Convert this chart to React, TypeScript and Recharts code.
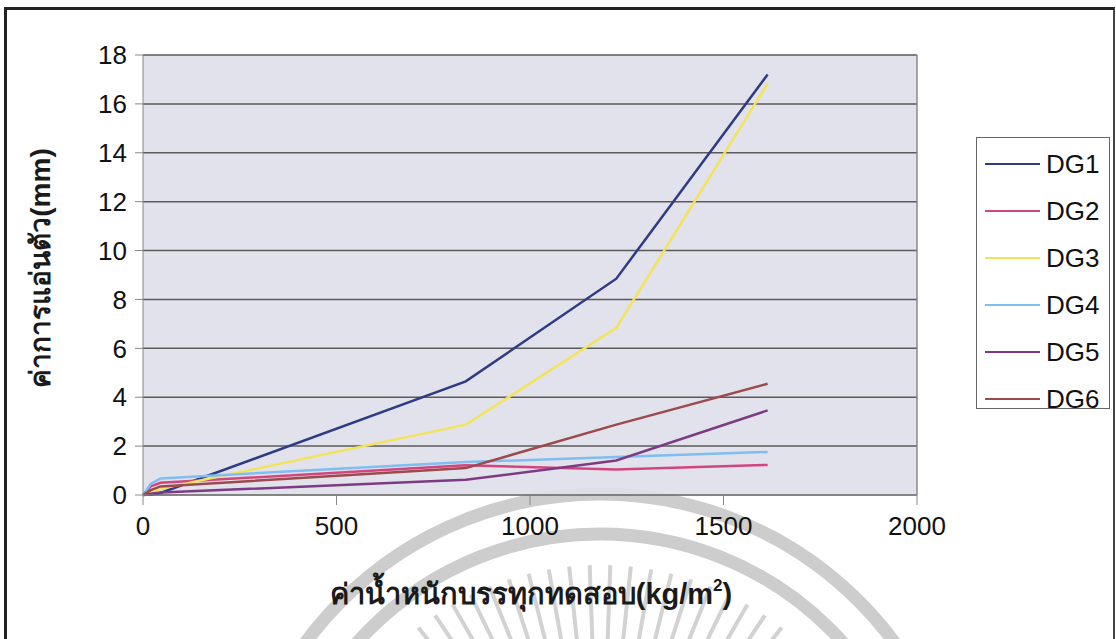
import { LineChart, Line, XAxis, YAxis, CartesianGrid, ReferenceLine } from 'recharts';

// load (kg/m2) and deflection (mm)
const loads = [0, 20, 45, 834, 1223, 1614];
const dg1 = [0, 0.02, 0.08, 4.65, 8.85, 17.2];
const dg2 = [0, 0.35, 0.5, 1.22, 1.04, 1.23];
const dg3 = [0, 0.1, 0.25, 2.88, 6.84, 16.83];
const dg4 = [0, 0.45, 0.68, 1.35, 1.55, 1.76];
const dg5 = [0, 0.05, 0.1, 0.62, 1.41, 3.46];
const dg6 = [0, 0.2, 0.35, 1.1, 2.88, 4.55];

const seriesNames = ['DG1', 'DG2', 'DG3', 'DG4', 'DG5', 'DG6'];
const seriesColors = ['#2f3b84', '#d2457f', '#f2e35a', '#7fbdf2', '#7d3b83', '#9c4a4c'];
const xTicks = [0, 500, 1000, 1500, 2000];
const yTicks = [0, 2, 4, 6, 8, 10, 12, 14, 16, 18];

const allSeries = [dg1, dg2, dg3, dg4, dg5, dg6];
const data = loads.map((load, i) => {
  const row: Record<string, number> = { load };
  seriesNames.forEach((name, s) => {
    row[name] = allSeries[s][i];
  });
  return row;
});

const font = '"Liberation Sans", Arial, sans-serif';

function Watermark() {
  const cx = 600;
  const cy = 860;
  const rays = [];
  for (let a = -42; a <= 42; a += 4) {
    const rad = ((a - 90) * Math.PI) / 180;
    rays.push(
      <line
        key={a}
        x1={cx + Math.cos(rad) * 150}
        y1={cy + Math.sin(rad) * 150}
        x2={cx + Math.cos(rad) * 295}
        y2={cy + Math.sin(rad) * 295}
        stroke="#d2d2d2"
        strokeWidth={4}
      />
    );
  }
  return (
    <svg width={1116} height={639} style={{ position: 'absolute', left: 0, top: 0 }}>
      <circle cx={cx} cy={cy} r={366} fill="none" stroke="#cdcdcd" strokeWidth={13} />
      <circle cx={cx} cy={cy} r={326} fill="none" stroke="#cdcdcd" strokeWidth={13} />
      {rays}
    </svg>
  );
}

export default function App() {
  return (
    <div
      style={{
        position: 'absolute',
        left: 0,
        top: 0,
        width: 1116,
        height: 639,
        background: '#fff',
        overflow: 'hidden',
        fontFamily: font,
      }}
    >
      <Watermark />
      <div
        style={{
          position: 'absolute',
          left: 4,
          top: 7,
          width: 1106,
          height: 640,
          borderTop: '3px solid #222',
          borderLeft: '3px solid #222',
          borderRight: '2px solid #444',
        }}
      />
      <div style={{ position: 'absolute', left: 0, top: 0 }}>
        <LineChart
          width={1116}
          height={639}
          data={data}
          margin={{ top: 55, right: 199, left: 83, bottom: 84 }}
        >
          <CartesianGrid vertical={false} stroke="#5a5a5a" strokeWidth={1.5} fill="#dfe0ea" fillOpacity={0.92} />
          <ReferenceLine x={2000} stroke="#888" strokeWidth={1.5} />
          <XAxis
            dataKey="load"
            type="number"
            domain={[0, 2000]}
            ticks={xTicks}
            height={60}
            stroke="#888"
            tickSize={10}
            tickMargin={12}
            tick={{ fill: '#111', fontSize: 26, fontFamily: font }}
            label={{
              content: () => (
                <text x={531} y={604} textAnchor="middle" fontSize={29} fontWeight="bold" fill="#1a1a1a" fontFamily={font}>
                  ค่าน้ำหนักบรรทุกทดสอบ(kg/m
                  <tspan fontSize={17} dy={-13}>2</tspan>
                  <tspan dy={13}>)</tspan>
                </text>
              ),
            }}
          />
          <YAxis
            type="number"
            domain={[0, 18]}
            ticks={yTicks}
            width={60}
            stroke="#888"
            tickSize={8}
            tickMargin={8}
            tick={{ fill: '#111', fontSize: 26, fontFamily: font }}
            label={{
              content: () => (
                <text
                  x={50}
                  y={268}
                  transform="rotate(-90 50 268)"
                  textAnchor="middle"
                  fontSize={28}
                  fontWeight="bold"
                  fill="#1a1a1a"
                  fontFamily={font}
                >
                  ค่าการแอ่นตัว(mm)
                </text>
              ),
            }}
          />
          {seriesNames.map((name, s) => (
            <Line
              key={name}
              type="linear"
              dataKey={name}
              stroke={seriesColors[s]}
              strokeWidth={2.5}
              dot={false}
              activeDot={false}
              isAnimationActive={false}
            />
          ))}
        </LineChart>
      </div>
      <div
        style={{
          position: 'absolute',
          left: 976,
          top: 137,
          width: 134,
          height: 272,
          border: '1.5px solid #666',
          background: '#fff',
          boxSizing: 'border-box',
        }}
      >
        {seriesNames.map((name, s) => (
          <div
            key={name}
            style={{
              position: 'absolute',
              left: 8,
              top: 6 + s * 47,
              height: 40,
              display: 'flex',
              alignItems: 'center',
            }}
          >
            <div style={{ width: 55, height: 2.5, background: seriesColors[s] }} />
            <span style={{ marginLeft: 6, fontSize: 26, color: '#111' }}>{name}</span>
          </div>
        ))}
      </div>
    </div>
  );
}
